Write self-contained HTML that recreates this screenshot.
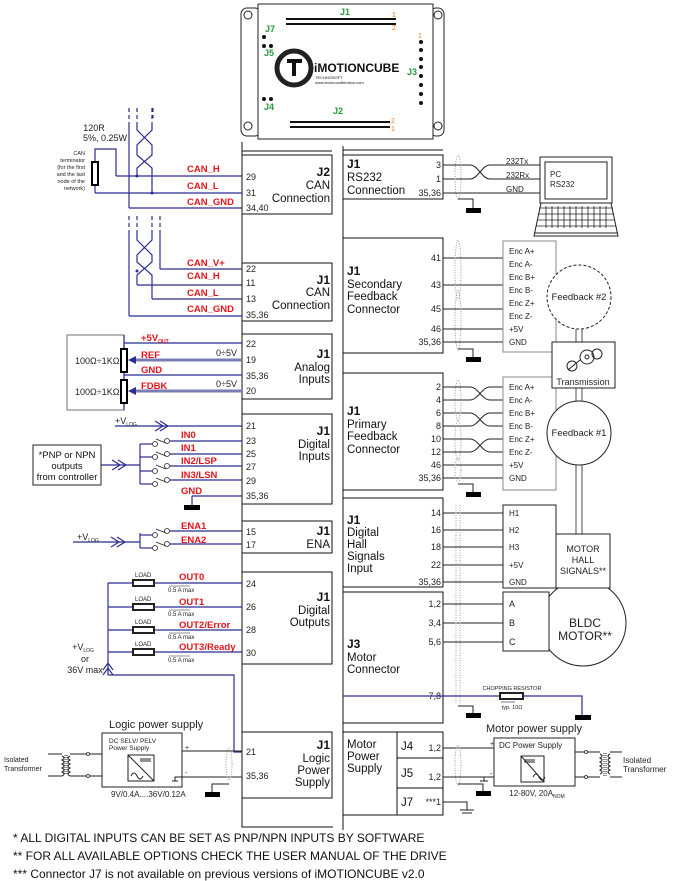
<!DOCTYPE html>
<html><head><meta charset="utf-8"><style>
html,body{margin:0;padding:0;background:#fff;}
svg{display:block;font-family:"Liberation Sans",sans-serif;}
.r{fill:#e3141c;font-weight:bold;font-size:9.5px;}
.p{font-size:9px;fill:#222;}
.t{font-size:11.5px;fill:#111;}
.tb{font-size:12px;font-weight:bold;fill:#111;}
.s{font-size:7.5px;fill:#222;}
</style></head><body>
<svg width="679" height="881" viewBox="0 0 679 881" xmlns="http://www.w3.org/2000/svg">
<g fill="none" stroke="#222" stroke-width="1">
<!-- drive board -->
<rect x="241" y="8" width="20" height="128" rx="6"/>
<rect x="430" y="8" width="14" height="128" rx="6"/>
<rect x="258" y="4" width="175" height="135" fill="#fff"/>
<circle cx="248" cy="15" r="4"/><circle cx="248" cy="126" r="4"/>
<circle cx="438" cy="15" r="4"/><circle cx="438" cy="126" r="4"/>
<circle cx="294" cy="68" r="17" stroke-width="5"/>
</g>
<g fill="#111">
<rect x="287" y="59" width="15" height="4"/><rect x="292" y="60" width="4" height="16"/>
<text x="314" y="72" font-size="12" font-weight="bold">iMOTIONCUBE</text>
<text x="315" y="79" font-size="4">TECHNOSOFT</text>
<text x="315" y="84" font-size="4">www.technosoftmotion.com</text>
</g>
<g fill="#111">
<rect x="286" y="18" width="110" height="2" /><rect x="286" y="23" width="110" height="2"/>
<rect x="290" y="121" width="100" height="2"/><rect x="290" y="126" width="100" height="2"/>
<circle cx="264" cy="37" r="2"/><circle cx="264" cy="46" r="2"/><circle cx="271" cy="46" r="2"/>
<circle cx="264" cy="99" r="2"/><circle cx="271" cy="99" r="2"/>
<circle cx="421" cy="42" r="2"/><circle cx="421" cy="50" r="2"/><circle cx="421" cy="59" r="2"/><circle cx="421" cy="67" r="2"/><circle cx="421" cy="76" r="2"/><circle cx="421" cy="85" r="2"/><circle cx="421" cy="94" r="2"/><circle cx="421" cy="103" r="2"/>
</g>
<g font-size="9" font-weight="bold" fill="#2a9a3a">
<text x="340" y="15">J1</text><text x="265" y="32">J7</text><text x="264" y="56">J5</text><text x="407" y="75">J3</text><text x="264" y="110">J4</text><text x="333" y="114">J2</text>
</g>
<g font-size="7" fill="#f07a10"><text x="392" y="17">1</text><text x="392" y="30">2</text><text x="391" y="123">2</text><text x="391" y="131">1</text><text x="418" y="38">1</text></g>

<!-- spine -->
<g fill="none" stroke="#111" stroke-width="1">
<polyline points="242,142 242,827 333,827"/>
<line x1="343" y1="146" x2="343" y2="830"/>
<line x1="242" y1="151" x2="332" y2="151"/>
<rect x="242" y="155" width="90" height="59"/>
<rect x="242" y="263" width="90" height="58"/>
<rect x="242" y="334" width="90" height="65"/>
<rect x="242" y="414" width="90" height="90"/>
<rect x="242" y="521" width="90" height="32"/>
<rect x="242" y="572" width="90" height="92"/>
<rect x="242" y="732" width="90" height="66"/>
<line x1="343" y1="150" x2="443" y2="150"/>
<rect x="343" y="155" width="100" height="44"/>
<rect x="343" y="238" width="100" height="115"/>
<rect x="343" y="373" width="100" height="117"/>
<rect x="343" y="498" width="100" height="89"/>
<rect x="343" y="592" width="100" height="131"/>
<rect x="343" y="732" width="100" height="83"/>
<line x1="397" y1="732" x2="397" y2="815"/>
<line x1="397" y1="758" x2="443" y2="758"/><line x1="397" y1="788" x2="443" y2="788"/>
</g>

<!-- left box texts -->
<g text-anchor="end">
<text class="tb" x="330" y="176">J2</text><text class="t" x="330" y="189">CAN</text><text class="t" x="330" y="202">Connection</text>
<text class="tb" x="330" y="284">J1</text><text class="t" x="330" y="296">CAN</text><text class="t" x="330" y="309">Connection</text>
<text class="tb" x="330" y="358">J1</text><text class="t" x="330" y="371">Analog</text><text class="t" x="330" y="383">Inputs</text>
<text class="tb" x="330" y="435">J1</text><text class="t" x="330" y="448">Digital</text><text class="t" x="330" y="460">Inputs</text>
<text class="tb" x="330" y="535">J1</text><text class="t" x="330" y="548">ENA</text>
<text class="tb" x="330" y="601">J1</text><text class="t" x="330" y="614">Digital</text><text class="t" x="330" y="626">Outputs</text>
<text class="tb" x="330" y="749">J1</text><text class="t" x="330" y="762">Logic</text><text class="t" x="330" y="774">Power</text><text class="t" x="330" y="786">Supply</text>
</g>
<g class="p">
<text x="246" y="180">29</text><text x="246" y="196">31</text><text x="246" y="211">34,40</text>
<text x="246" y="272">22</text><text x="246" y="286">11</text><text x="246" y="302">13</text><text x="246" y="318">35,36</text>
<text x="246" y="347">22</text><text x="246" y="363">19</text><text x="246" y="379">35,36</text><text x="246" y="394">20</text>
<text x="246" y="429">21</text><text x="246" y="444">23</text><text x="246" y="457">25</text><text x="246" y="470">27</text><text x="246" y="484">29</text><text x="246" y="499">35,36</text>
<text x="246" y="535">15</text><text x="246" y="548">17</text>
<text x="246" y="587">24</text><text x="246" y="610">26</text><text x="246" y="633">28</text><text x="246" y="656">30</text>
<text x="246" y="755">21</text><text x="246" y="779">35,36</text>
</g>

<!-- CAN wiring -->
<g fill="none" stroke="#2b2e8f" stroke-width="1.2">
<line x1="116" y1="176" x2="242" y2="176"/><line x1="95" y1="193" x2="242" y2="193"/><line x1="129" y1="208" x2="242" y2="208"/>
<polyline points="95,162 95,149 116,149 116,176"/><line x1="95" y1="185" x2="95" y2="193"/>
<line x1="129" y1="125" x2="129" y2="208"/>
<polyline points="137,125 137,130 152,145 152,155 137,168 137,176"/>
<polyline points="152,125 152,130 137,145 137,155 152,168 152,193"/>
<g stroke-dasharray="4,3"><line x1="129" y1="108" x2="129" y2="125"/><line x1="137" y1="108" x2="137" y2="125"/><line x1="152" y1="108" x2="152" y2="125"/><line x1="153" y1="108" x2="153" y2="118"/></g>
<line x1="160" y1="269" x2="242" y2="269"/><line x1="137" y1="285" x2="242" y2="285"/><line x1="152" y1="299" x2="242" y2="299"/><line x1="129" y1="316" x2="242" y2="316"/>
<line x1="129" y1="232" x2="129" y2="316"/><line x1="160" y1="232" x2="160" y2="269"/>
<polyline points="137,232 137,240 152,255 152,262 137,275 137,285"/>
<polyline points="152,232 152,240 137,255 137,262 152,275 152,299"/>
<g stroke-dasharray="4,3"><line x1="129" y1="216" x2="129" y2="232"/><line x1="137" y1="216" x2="137" y2="232"/><line x1="152" y1="216" x2="152" y2="232"/><line x1="160" y1="216" x2="160" y2="232"/></g>
</g>
<rect x="92" y="162" width="6" height="23" fill="#fff" stroke="#000" stroke-width="2"/>
<g fill="#2b2e8f"><circle cx="137" cy="176" r="1.5"/><circle cx="152" cy="193" r="1.5"/><circle cx="137" cy="271" r="1.5"/></g>
<text x="94" y="131" font-size="9" text-anchor="middle" fill="#222">120R</text>
<text x="105" y="141" font-size="9" text-anchor="middle" fill="#222">5%, 0.25W</text>
<g font-size="5.5" fill="#222" text-anchor="end"><text x="85" y="155">CAN</text><text x="85" y="162">terminator</text><text x="85" y="169">(for the first</text><text x="85" y="176">and the last</text><text x="85" y="183">node of the</text><text x="85" y="190">network)</text></g>
<g class="r"><text x="187" y="172">CAN_H</text><text x="187" y="189">CAN_L</text><text x="187" y="205">CAN_GND</text>
<text x="187" y="266">CAN_V+</text><text x="187" y="279">CAN_H</text><text x="187" y="296">CAN_L</text><text x="187" y="312">CAN_GND</text></g>

<!-- Analog -->
<rect x="67" y="335" width="57" height="75" fill="none" stroke="#888" stroke-width="1.2"/>
<g fill="none" stroke="#2b2e8f" stroke-width="1.2">
<line x1="124" y1="343" x2="242" y2="343"/><line x1="124" y1="375" x2="242" y2="375"/>
<line x1="124" y1="335" x2="124" y2="410"/>
</g>
<g stroke="#7a7cb5" stroke-width="3"><line x1="132" y1="360" x2="242" y2="360"/><line x1="132" y1="391" x2="242" y2="391"/></g>
<g fill="#2b2e8f"><polygon points="128,360 136,356 136,364"/><polygon points="128,391 136,387 136,395"/></g>
<rect x="121" y="349" width="6" height="23" fill="#fff" stroke="#000" stroke-width="2"/>
<rect x="121" y="380" width="6" height="23" fill="#fff" stroke="#000" stroke-width="2"/>
<g font-size="9" fill="#222"><text x="75" y="364">100Ω÷1KΩ</text><text x="75" y="395">100Ω÷1KΩ</text><text x="216" y="356">0÷5V</text><text x="216" y="387">0÷5V</text></g>
<g class="r"><text x="141" y="341">+5V<tspan font-size="5" dy="2">OUT</tspan></text><text x="141" y="358">REF</text><text x="141" y="373">GND</text><text x="141" y="389">FDBK</text></g>

<!-- Digital inputs -->
<g fill="none" stroke="#2b2e8f" stroke-width="1.2">
<line x1="115" y1="426" x2="242" y2="426"/>
<polyline points="155,421 163,426 155,431"/><polyline points="160,421 168,426 160,431"/>
<line x1="101" y1="465" x2="140" y2="465"/>
<polyline points="112,460 120,465 112,470"/><polyline points="118,460 126,465 118,470"/>
<line x1="140" y1="444" x2="140" y2="484"/>
<line x1="170" y1="441" x2="242" y2="441"/><line x1="170" y1="454" x2="242" y2="454"/><line x1="170" y1="466" x2="242" y2="466"/><line x1="170" y1="480" x2="242" y2="480"/>
<line x1="140" y1="444" x2="152" y2="444"/><line x1="140" y1="457" x2="152" y2="457"/><line x1="140" y1="471" x2="152" y2="471"/><line x1="140" y1="484" x2="152" y2="484"/>
<line x1="192" y1="496" x2="242" y2="496"/><line x1="192" y1="496" x2="192" y2="506"/>
<line x1="73" y1="542" x2="140" y2="542"/>
<polyline points="111,537 119,542 111,547"/><polyline points="117,537 125,542 117,547"/>
<line x1="140" y1="533" x2="140" y2="548"/>
<line x1="170" y1="531" x2="242" y2="531"/><line x1="170" y1="544" x2="242" y2="544"/>
<line x1="140" y1="535" x2="152" y2="535"/><line x1="140" y1="548" x2="152" y2="548"/>
</g>
<g fill="#fff" stroke="#222" stroke-width="0.8">
<circle cx="155" cy="444" r="2.5"/><circle cx="167" cy="441" r="2.5"/>
<circle cx="155" cy="457" r="2.5"/><circle cx="167" cy="454" r="2.5"/>
<circle cx="155" cy="471" r="2.5"/><circle cx="167" cy="466" r="2.5"/>
<circle cx="155" cy="484" r="2.5"/><circle cx="167" cy="480" r="2.5"/>
<circle cx="155" cy="535" r="2.5"/><circle cx="167" cy="531" r="2.5"/>
<circle cx="155" cy="548" r="2.5"/><circle cx="167" cy="544" r="2.5"/>
</g>
<g stroke="#222" stroke-width="0.8">
<line x1="156" y1="439" x2="166" y2="443"/><line x1="156" y1="452" x2="166" y2="456"/><line x1="156" y1="465" x2="166" y2="469"/><line x1="156" y1="478" x2="166" y2="482"/>
<line x1="156" y1="529" x2="166" y2="533"/><line x1="156" y1="542" x2="166" y2="546"/>
</g>
<rect x="184" y="505" width="16" height="5" fill="#000"/>
<rect x="33" y="445" width="68" height="40" fill="none" stroke="#222"/>
<g font-size="9.5" fill="#111" text-anchor="middle"><text x="67" y="458">*PNP or NPN</text><text x="67" y="469">outputs</text><text x="67" y="480">from controller</text></g>
<g font-size="9" fill="#222"><text x="115" y="424">+V<tspan font-size="5" dy="2">LOG</tspan></text><text x="77" y="540">+V<tspan font-size="5" dy="2">LOG</tspan></text></g>
<g class="r"><text x="181" y="438">IN0</text><text x="181" y="451">IN1</text><text x="181" y="464">IN2/LSP</text><text x="181" y="478">IN3/LSN</text><text x="181" y="494">GND</text><text x="181" y="529">ENA1</text><text x="181" y="543">ENA2</text></g>

<!-- Digital outputs -->
<g fill="none" stroke="#2b2e8f" stroke-width="1.2">
<line x1="108" y1="583" x2="242" y2="583"/><line x1="108" y1="607" x2="242" y2="607"/><line x1="108" y1="630" x2="242" y2="630"/><line x1="108" y1="652" x2="242" y2="652"/>
<line x1="108" y1="583" x2="108" y2="675"/>
<polyline points="103,670 108,663 113,670"/><polyline points="103,675 108,668 113,675"/>
<polyline points="108,675 234,675 234,752 242,752"/>
</g>
<g fill="#fff" stroke="#222" stroke-width="2">
<rect x="133" y="580" width="21" height="6"/><rect x="133" y="604" width="21" height="6"/><rect x="133" y="627" width="21" height="6"/><rect x="133" y="649" width="21" height="6"/>
</g>
<g font-size="6" fill="#222"><text x="135" y="577">LOAD</text><text x="135" y="601">LOAD</text><text x="135" y="624">LOAD</text><text x="135" y="646">LOAD</text>
<text x="168" y="592">0.5 A max</text><text x="168" y="616">0.5 A max</text><text x="168" y="639">0.5 A max</text><text x="168" y="662">0.5 A max</text></g>
<g stroke="#222" stroke-width="0.6"><line x1="169" y1="586" x2="190" y2="586"/><line x1="169" y1="610" x2="190" y2="610"/><line x1="169" y1="633" x2="190" y2="633"/><line x1="169" y1="656" x2="190" y2="656"/></g>
<g class="r"><text x="179" y="580">OUT0</text><text x="179" y="605">OUT1</text><text x="179" y="628">OUT2/Error</text><text x="179" y="650">OUT3/Ready</text></g>
<g font-size="9" fill="#222" text-anchor="middle"><text x="83" y="650">+V<tspan font-size="5" dy="2">LOG</tspan></text><text x="85" y="662">or</text><text x="85" y="673">36V max</text></g>

<!-- Logic power -->
<g fill="none" stroke="#222" stroke-width="1">
<line x1="182" y1="751" x2="242" y2="751"/><line x1="182" y1="777" x2="242" y2="777"/>
<polyline points="229,784 212,784 212,792"/>
<rect x="102" y="733" width="80" height="54"/>
<rect x="128" y="755" width="26" height="26"/><line x1="128" y1="755" x2="154" y2="781"/>
<line x1="140" y1="759" x2="151" y2="759"/><line x1="140" y1="761" x2="151" y2="761"/>
<path d="M131 776 q3 -6 6 0 t6 0"/>
<polyline points="185,777 175,777 175,781"/><line x1="172" y1="781" x2="178" y2="781"/>
<line x1="48" y1="754" x2="62" y2="754"/><line x1="48" y1="776" x2="62" y2="776"/>
<line x1="70" y1="754" x2="88" y2="754"/><line x1="70" y1="776" x2="88" y2="776"/>
<line x1="88" y1="754" x2="102" y2="754"/><line x1="88" y1="776" x2="102" y2="776"/>
<path d="M62 756 q4 2 0 4 q4 2 0 4 q4 2 0 4 q4 2 0 4 q4 2 0 4" />
<path d="M70 756 q-4 2 0 4 q-4 2 0 4 q-4 2 0 4 q-4 2 0 4 q-4 2 0 4"/>
<line x1="65" y1="755" x2="65" y2="775" stroke-dasharray="1,1"/><line x1="67" y1="755" x2="67" y2="775" stroke-dasharray="1,1"/>
<ellipse cx="229" cy="764" rx="3" ry="16" stroke="#999" stroke-dasharray="1,1.5"/>
</g>
<rect x="205" y="792" width="15" height="5" fill="#000"/>
<g fill="#fff" stroke="#222" stroke-width="0.8"><circle cx="88" cy="754" r="1.5"/><circle cx="88" cy="776" r="1.5"/></g>
<g fill="#222"><text x="109" y="728" font-size="11">Logic power supply</text>
<text x="109" y="743" font-size="6.5">DC SELV/ PELV</text><text x="109" y="750" font-size="6.5">Power Supply</text>
<text x="111" y="797" font-size="8">9V/0.4A....36V/0.12A</text>
<text x="185" y="750" font-size="7">+</text><text x="185" y="775" font-size="7">-</text>
<text x="4" y="762" font-size="7">Isolated</text><text x="4" y="771" font-size="7">Transformer</text></g>

<!-- Right box texts -->
<g>
<text class="tb" x="347" y="168">J1</text><text class="t" x="347" y="181">RS232</text><text class="t" x="347" y="194">Connection</text>
<text class="tb" x="347" y="275">J1</text><text class="t" x="347" y="288">Secondary</text><text class="t" x="347" y="300">Feedback</text><text class="t" x="347" y="313">Connector</text>
<text class="tb" x="347" y="415">J1</text><text class="t" x="347" y="428">Primary</text><text class="t" x="347" y="440">Feedback</text><text class="t" x="347" y="453">Connector</text>
<text class="tb" x="347" y="524">J1</text><text class="t" x="347" y="536">Digital</text><text class="t" x="347" y="548">Hall</text><text class="t" x="347" y="560">Signals</text><text class="t" x="347" y="572">Input</text>
<text class="tb" x="347" y="648">J3</text><text class="t" x="347" y="661">Motor</text><text class="t" x="347" y="673">Connector</text>
<text class="t" x="347" y="748">Motor</text><text class="t" x="347" y="760">Power</text><text class="t" x="347" y="772">Supply</text>
<text class="t" x="401" y="750">J4</text><text class="t" x="401" y="777">J5</text><text class="t" x="401" y="806">J7</text>
</g>
<g class="p" text-anchor="end">
<text x="441" y="168">3</text><text x="441" y="182">1</text><text x="441" y="196">35,36</text>
<text x="441" y="261">41</text><text x="441" y="288">43</text><text x="441" y="312">45</text><text x="441" y="332">46</text><text x="441" y="345">35,36</text>
<text x="441" y="390">2</text><text x="441" y="403">4</text><text x="441" y="416">6</text><text x="441" y="429">8</text><text x="441" y="442">10</text><text x="441" y="455">12</text><text x="441" y="468">46</text><text x="441" y="481">35,36</text>
<text x="441" y="516">14</text><text x="441" y="533">16</text><text x="441" y="550">18</text><text x="441" y="568">22</text><text x="441" y="585">35,36</text>
<text x="441" y="607">1,2</text><text x="441" y="626">3,4</text><text x="441" y="645">5,6</text><text x="441" y="699">7,8</text>
<text x="441" y="751">1,2</text><text x="441" y="780">1,2</text><text x="441" y="805">***1</text>
</g>

<!-- right wiring -->
<g fill="none" stroke="#222" stroke-width="1">
<line x1="443" y1="165" x2="470" y2="165"/><line x1="443" y1="179" x2="470" y2="179"/><line x1="443" y1="193" x2="540" y2="193"/>
<path d="M470 165 C478 165 482 179 490 179 L540 179 M470 179 C478 179 482 165 490 165 L540 165"/>
<polyline points="458,199 473,199 473,208"/>
<line x1="443" y1="258" x2="503" y2="258"/><line x1="443" y1="285" x2="503" y2="285"/><line x1="443" y1="309" x2="503" y2="309"/><line x1="443" y1="329" x2="503" y2="329"/><line x1="443" y1="342" x2="503" y2="342"/>
<polyline points="458,349 473,349 473,357"/>
<line x1="443" y1="478" x2="503" y2="478"/><line x1="443" y1="465" x2="503" y2="465"/>
<path d="M443 387 H470 C478 387 482 400 490 400 H503 M443 400 H470 C478 400 482 387 490 387 H503"/>
<path d="M443 413 H470 C478 413 482 426 490 426 H503 M443 426 H470 C478 426 482 413 490 413 H503"/>
<path d="M443 439 H470 C478 439 482 452 490 452 H503 M443 452 H470 C478 452 482 439 490 439 H503"/>
<polyline points="458,484 473,484 473,492"/>
<line x1="443" y1="513" x2="503" y2="513"/><line x1="443" y1="530" x2="503" y2="530"/><line x1="443" y1="547" x2="503" y2="547"/><line x1="443" y1="565" x2="503" y2="565"/><line x1="443" y1="582" x2="503" y2="582"/>
<line x1="443" y1="604" x2="503" y2="604"/><line x1="443" y1="623" x2="503" y2="623"/><line x1="443" y1="642" x2="503" y2="642"/>
<polyline points="458,706 473,706 473,713"/>
<line x1="443" y1="748" x2="494" y2="748"/><line x1="443" y1="777" x2="494" y2="777"/>
<polyline points="458,784 483,784 483,791"/>
<polyline points="443,802 467,802 467,810"/>
<line x1="460" y1="810" x2="474" y2="810"/><line x1="462" y1="813" x2="472" y2="813"/>
<g stroke="#999" stroke-dasharray="1,1.5">
<ellipse cx="458" cy="177" rx="3" ry="22"/>
<ellipse cx="458" cy="270" rx="3" ry="30"/><ellipse cx="458" cy="320" rx="3" ry="30"/>
<ellipse cx="458" cy="400" rx="3" ry="20"/><ellipse cx="458" cy="440" rx="3" ry="20"/><ellipse cx="458" cy="470" rx="3" ry="12"/>
<line x1="456" y1="505" x2="456" y2="705"/><line x1="460" y1="505" x2="460" y2="705"/>
<ellipse cx="458" cy="765" rx="3" ry="20"/>
</g>
<!-- shafts -->
<line x1="576" y1="329" x2="576" y2="342" stroke="#888" stroke-width="1.5"/><line x1="582" y1="329" x2="582" y2="342" stroke="#888" stroke-width="1.5"/>
<line x1="576" y1="388" x2="576" y2="401" stroke="#888" stroke-width="1.5"/><line x1="582" y1="388" x2="582" y2="401" stroke="#888" stroke-width="1.5"/>
<line x1="576" y1="465" x2="576" y2="534" stroke="#888" stroke-width="1.5"/><line x1="582" y1="465" x2="582" y2="534" stroke="#888" stroke-width="1.5"/>
<!-- BLDC circle behind boxes -->
<circle cx="583" cy="623" r="43" fill="#fff"/>
<!-- encoder boxes -->
<rect x="503" y="241" width="53" height="111" stroke="#888" fill="#fff"/>
<rect x="503" y="377" width="53" height="113" stroke="#888" fill="#fff"/>
<rect x="503" y="505" width="53" height="83" fill="#fff"/>
<rect x="556" y="534" width="54" height="54" fill="#fff"/>
<rect x="503" y="592" width="46" height="59" fill="#fff"/>
<circle cx="579" cy="297" r="32" stroke-dasharray="3,2" fill="#fff"/>
<circle cx="579" cy="433" r="32" fill="#fff"/>
<rect x="552" y="342" width="63" height="46" fill="#fff"/>
<circle cx="587" cy="357" r="7"/><circle cx="587" cy="357" r="2"/><circle cx="597" cy="354" r="5"/><circle cx="572" cy="366" r="5"/><line x1="568" y1="370" x2="580" y2="360"/>
<!-- laptop -->
<rect x="540" y="157" width="72" height="46" fill="#fff"/><rect x="545" y="162" width="62" height="37"/>
<polygon points="541,203 611,203 618,236 534,236" fill="#fff"/>
<line x1="534" y1="233" x2="618" y2="233"/>
<g stroke-width="0.8"><line x1="539" y1="208" x2="613" y2="208"/><line x1="538" y1="214" x2="614" y2="214"/><line x1="537" y1="220" x2="615" y2="220"/><line x1="536" y1="226" x2="616" y2="226"/>
<path d="M546 206v22M552 206v22M558 206v22M564 206v22M570 206v22M576 206v22M582 206v22M588 206v22M594 206v22M600 206v22M606 206v22"/></g>
<!-- motor power -->
<rect x="494" y="738" width="81" height="48"/>
<rect x="521" y="756" width="23" height="26"/><line x1="521" y1="756" x2="544" y2="782"/>
<line x1="524" y1="760" x2="535" y2="760"/><line x1="524" y1="762" x2="535" y2="762"/>
<path d="M533 777 q3 -6 6 0 t6 0"/>
<line x1="575" y1="752" x2="600" y2="752"/><line x1="575" y1="777" x2="600" y2="777"/>
<line x1="610" y1="752" x2="622" y2="752"/><line x1="610" y1="777" x2="622" y2="777"/>
<path d="M600 754 q4 2 0 4 q4 2 0 4 q4 2 0 4 q4 2 0 4 q4 2 0 4"/>
<path d="M610 754 q-4 2 0 4 q-4 2 0 4 q-4 2 0 4 q-4 2 0 4 q-4 2 0 4"/>
<line x1="604" y1="753" x2="604" y2="776" stroke-dasharray="1,1"/><line x1="606" y1="753" x2="606" y2="776" stroke-dasharray="1,1"/>
<polyline points="494,777 484,777 484,781"/><line x1="480" y1="781" x2="488" y2="781"/>
</g>
<g fill="#fff" stroke="#222" stroke-width="0.8"><circle cx="586" cy="752" r="1.5"/><circle cx="586" cy="777" r="1.5"/></g>
<g fill="none" stroke="#2b2e8f" stroke-width="1.2"><polyline points="343,696 582,696 582,715"/></g>
<rect x="500" y="693" width="23" height="6" fill="#fff" stroke="#222" stroke-width="2"/>
<g fill="#000"><rect x="466" y="208" width="15" height="5"/><rect x="466" y="357" width="15" height="5"/><rect x="466" y="492" width="15" height="5"/><rect x="466" y="713" width="15" height="5"/><rect x="575" y="715" width="16" height="5"/><rect x="476" y="791" width="15" height="5"/></g>
<g font-size="8" fill="#222">
<text x="506" y="164">232Tx</text><text x="506" y="178">232Rx</text><text x="506" y="192">GND</text>
<text x="550" y="177">PC</text><text x="550" y="187">RS232</text>
<text x="509" y="254">Enc A+</text><text x="509" y="267">Enc A-</text><text x="509" y="280">Enc B+</text><text x="509" y="293">Enc B-</text><text x="509" y="306">Enc Z+</text><text x="509" y="319">Enc Z-</text><text x="509" y="332">+5V</text><text x="509" y="345">GND</text>
<text x="509" y="390">Enc A+</text><text x="509" y="403">Enc A-</text><text x="509" y="416">Enc B+</text><text x="509" y="429">Enc B-</text><text x="509" y="442">Enc Z+</text><text x="509" y="455">Enc Z-</text><text x="509" y="468">+5V</text><text x="509" y="481">GND</text>
<text x="509" y="516">H1</text><text x="509" y="533">H2</text><text x="509" y="550">H3</text><text x="509" y="568">+5V</text><text x="509" y="585">GND</text>
<text x="509" y="607" font-size="9">A</text><text x="509" y="626" font-size="9">B</text><text x="509" y="645" font-size="9">C</text>
</g>
<g fill="#222" text-anchor="middle">
<text x="579" y="300" font-size="9.5">Feedback #2</text>
<text x="579" y="436" font-size="9.5">Feedback #1</text>
<text x="583" y="385" font-size="9">Transmission</text>
<text x="583" y="552" font-size="9">MOTOR</text><text x="583" y="563" font-size="9">HALL</text><text x="583" y="574" font-size="9">SIGNALS**</text>
<text x="585" y="627" font-size="12">BLDC</text><text x="585" y="640" font-size="12">MOTOR**</text>
<text x="512" y="690" font-size="5.5">CHOPPING RESISTOR</text>
<text x="512" y="709" font-size="5.5">typ. 10Ω</text>
<text x="534" y="732" font-size="11">Motor power supply</text>
<text x="537" y="796" font-size="8">12-80V, 20A<tspan font-size="5" dy="2">NOM</tspan></text>
</g>
<g font-size="8" fill="#222"><text x="499" y="748">DC Power Supply</text><text x="490" y="746" font-size="7">+</text><text x="490" y="776" font-size="7">-</text>
<text x="623" y="763">Isolated</text><text x="623" y="772">Transformer</text></g>
<line x1="501" y1="702" x2="515" y2="702" stroke="#222" stroke-width="0.6"/>

<!-- footer -->
<g font-size="12" fill="#111"><text x="13" y="842">* ALL DIGITAL INPUTS CAN BE SET AS PNP/NPN INPUTS BY SOFTWARE</text>
<text x="13" y="860">** FOR ALL AVAILABLE OPTIONS CHECK THE USER MANUAL OF THE DRIVE</text>
<text x="13" y="878">*** Connector J7 is not available on previous versions of iMOTIONCUBE v2.0</text></g>
</svg>
</body></html>
